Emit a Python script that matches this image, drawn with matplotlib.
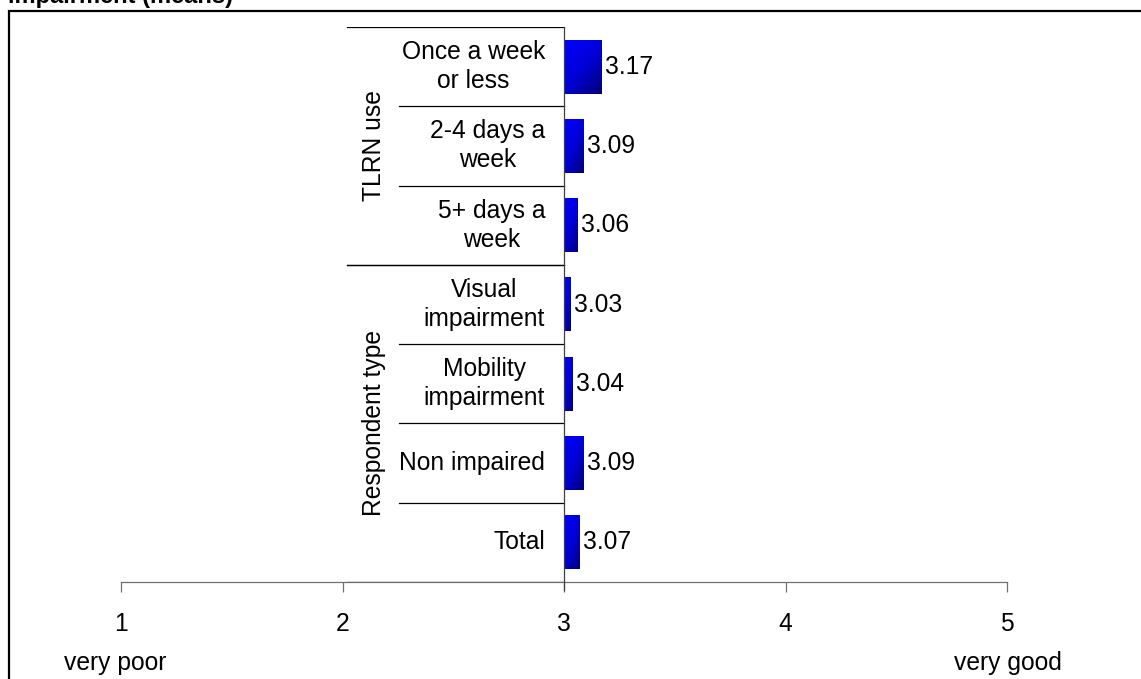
import matplotlib
matplotlib.use("Agg")
import matplotlib.pyplot as plt
import numpy as np
from matplotlib.colors import LinearSegmentedColormap
from matplotlib.patches import Rectangle

plt.rcParams['font.family'] = ['Liberation Sans', 'DejaVu Sans']

categories = ["Once a week\nor less", "2-4 days a\nweek", "5+ days a\nweek",
              "Visual\nimpairment", "Mobility\nimpairment", "Non impaired", "Total"]
values = [3.17, 3.09, 3.06, 3.03, 3.04, 3.09, 3.07]
groups = [("TLRN use", 0, 3), ("Respondent type", 3, 7)]
xticks = [1, 2, 3, 4, 5]
title = "impairment (means)"

W, H = 1141, 679
FS = 17.7
fig = plt.figure(figsize=(W / 100, H / 100), dpi=100)
fig.patch.set_facecolor('white')

# border box
fig.patches.append(Rectangle((9 / W, -0.05), 1.2, 1 - 11 / H + 0.05, transform=fig.transFigure,
                             fill=False, edgecolor='black', linewidth=1.6))
fig.text(8 / W, 1 - 3 / H, title, fontsize=17, fontweight='bold', ha='left', va='baseline')

ax = fig.add_axes([121 / W, 1 - 582 / H, (1007 - 121) / W, (582 - 27) / H])
ax.set_xlim(1, 5)
ax.set_ylim(len(categories), 0)
ax.patch.set_visible(False)

cmap = LinearSegmentedColormap.from_list('bluegrad', ['#0000ff', '#0000d8', '#00007a'])
uu, vv = np.meshgrid(np.linspace(0, 1, 50), np.linspace(0, 1, 50))
grad = 0.45 * uu + 0.55 * vv
bh = 0.68
for i, v in enumerate(values):
    y0 = i + 0.5 - bh / 2
    y1 = i + 0.5 + bh / 2
    ax.imshow(grad, cmap=cmap, extent=[3, v, y1, y0], aspect='auto', interpolation='bilinear',
              origin='upper', zorder=2)
    ax.annotate(f"{v:.2f}", xy=(v, i + 0.5), xytext=(2.5, 0), textcoords='offset points',
                ha='left', va='center', fontsize=FS)
    ax.text(1 + (545 - 121) / 221.5, i + 0.5, categories[i], ha='right', va='center',
            multialignment='center', fontsize=FS, linespacing=1.27)

ax.set_xlim(1, 5)
ax.set_ylim(len(categories), 0)

# separators
gx = 1 + (347 - 121) / 221.5
cx = 1 + (399 - 121) / 221.5
for name, s, e in groups:
    ax.plot([gx, 3], [s, s], color='black', lw=0.9, zorder=3)
    ax.plot([gx, 3], [e, e], color='black', lw=0.9, zorder=3)
    for k in range(s + 1, e):
        ax.plot([cx, 3], [k, k], color='black', lw=0.9, zorder=3)
    ax.text(1 + (374 - 121) / 221.5, (s + e) / 2, name, rotation=90, ha='center', va='center',
            fontsize=FS)

ax.plot([3, 3], [0, 7.1], color='#404040', lw=0.9, clip_on=False, zorder=4)

for sp in ['left', 'right', 'top']:
    ax.spines[sp].set_visible(False)
ax.spines['bottom'].set_color('#707070')
ax.spines['bottom'].set_linewidth(0.9)
ax.set_yticks([])
ax.set_xticks(xticks)
ax.set_xticklabels([str(t) for t in xticks], fontsize=FS)
ax.tick_params(axis='x', direction='out', length=7.2, width=0.9, color='#707070', pad=14.5)

ax.text(1 + (115 - 121) / 221.5, 7 + 81 / 79.3, "very poor", ha='center', va='center', fontsize=FS,
        clip_on=False)
ax.text(1 + (1008 - 121) / 221.5, 7 + 81 / 79.3, "very good", ha='center', va='center', fontsize=FS,
        clip_on=False)

fig.savefig("out.png", dpi=100)
